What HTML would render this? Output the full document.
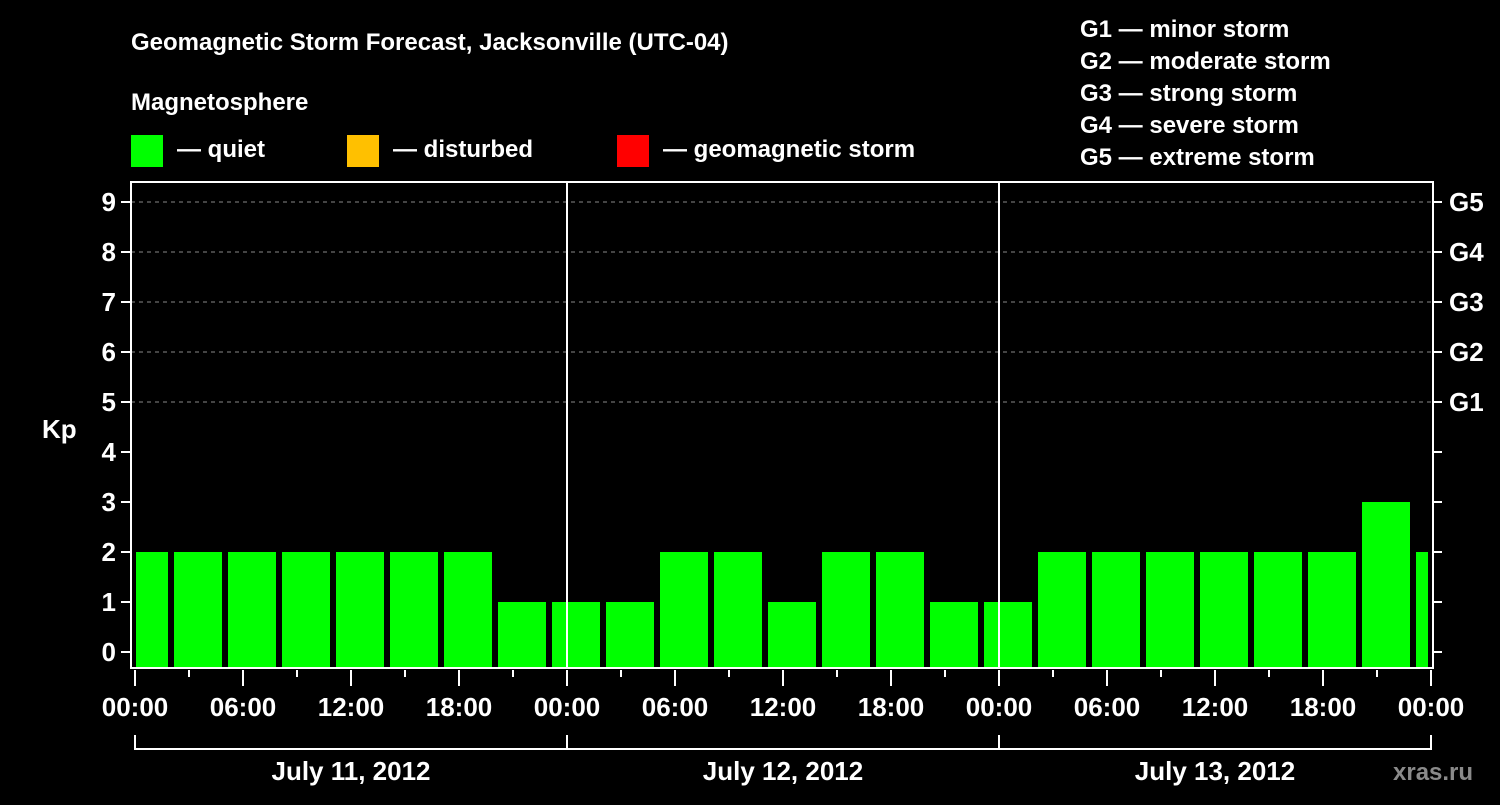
<!DOCTYPE html>
<html><head><meta charset="utf-8"><style>
body{margin:0;background:#000;width:1500px;height:800px;overflow:hidden}
svg text{font-family:"Liberation Sans",Arial,sans-serif;font-weight:bold;fill:#fff}
</style></head><body>
<svg id="c" width="1500" height="800">
<text x="131" y="50" font-size="24">Geomagnetic Storm Forecast, Jacksonville (UTC-04)</text>
<text x="131" y="110" font-size="24">Magnetosphere</text>
<rect x="131" y="135" width="32" height="32" fill="#00ff00"/>
<text x="177" y="157" font-size="24">— quiet</text>
<rect x="347" y="135" width="32" height="32" fill="#ffc000"/>
<text x="393" y="157" font-size="24">— disturbed</text>
<rect x="617" y="135" width="32" height="32" fill="#ff0000"/>
<text x="663" y="157" font-size="24">— geomagnetic storm</text>
<g font-size="24">
<text x="1080" y="37">G1 — minor storm</text>
<text x="1080" y="69">G2 — moderate storm</text>
<text x="1080" y="101">G3 — strong storm</text>
<text x="1080" y="133">G4 — severe storm</text>
<text x="1080" y="165">G5 — extreme storm</text>
</g>
<text x="42" y="438" font-size="26">Kp</text>
<text x="1393" y="780" font-size="24" fill="#888" style="fill:#8a8a8a">xras.ru</text>
<g id="grid"></g><g id="bars"></g><g id="axes"></g>
</svg>
<script>
const dayLabels=["July 11, 2012","July 12, 2012","July 13, 2012"];
const hourLabels=["00:00","06:00","12:00","18:00"];
const yTicks=[0,1,2,3,4,5,6,7,8,9];
const gLevels=["G1","G2","G3","G4","G5"];
const gKp=[5,6,7,8,9];
const barStartHours=[-1,2,5,8,11,14,17,20,23,26,29,32,35,38,41,44,47,50,53,56,59,62,65,68,71];
const kpValues=[2,2,2,2,2,2,2,1,1,1,2,2,1,2,2,1,1,2,2,2,2,2,2,3,2];
const NS="http://www.w3.org/2000/svg";
const L=131,R=1433,T=182,B=668,X0=135,PXH=18;
const x=h=>X0+h*PXH, y=v=>652-v*50;
function mk(p,tag,a){const e=document.createElementNS(NS,tag);for(const k in a)e.setAttribute(k,a[k]);document.getElementById(p).appendChild(e);return e;}
yTicks.forEach(v=>{
 if(v>=5){const g=mk('grid','line',{x1:L,x2:R,y1:y(v),y2:y(v),stroke:'#888','stroke-dasharray':'4,4'});
 
 }
 const t=mk('axes','line',{x1:121,x2:L,y1:y(v),y2:y(v),stroke:'#fff','stroke-width':2});
 
 
 const r=mk('axes','line',{x1:R,x2:1442,y1:y(v),y2:y(v),stroke:'#fff','stroke-width':2});
 
 
 const l=mk('axes','text',{x:116,y:y(v)+9,'text-anchor':'end','font-size':26});l.textContent=v;
 
 
});
gLevels.forEach((g,i)=>{const t=mk('axes','text',{x:1449,y:y(gKp[i])+9,'font-size':26});t.textContent=g;
 
 });
kpValues.forEach((v,i)=>{
 let a=x(barStartHours[i])+3,b=x(barStartHours[i]+3)-3;
 a=Math.max(a,x(0)+1);b=Math.min(b,x(72)-3);
 const r=mk('bars','rect',{x:a,y:y(v),width:b-a,height:B-y(v),fill:v>=5?'#ff0000':(v>=4?'#ffc000':'#00ff00')});
 
 
});
const fr=mk('axes','rect',{x:L,y:T,width:R-L,height:B-T,fill:'none',stroke:'#fff','stroke-width':2});


[1,2].forEach(d=>{const s=mk('axes','line',{x1:x(24*d),x2:x(24*d),y1:T,y2:B,stroke:'#fff','stroke-width':2});
 
 });
for(let h=0;h<=72;h+=3){
 const maj=h%6===0;
 const t=mk('axes','line',{x1:x(h),x2:x(h),y1:B+2,y2:maj?686:677,stroke:'#fff','stroke-width':2});
 
 
 if(maj){const l=mk('axes','text',{x:x(h),y:716,'text-anchor':'middle','font-size':26});l.textContent=hourLabels[(h%24)/6];
 
 }
}
const br=mk('axes','line',{x1:x(0),x2:x(72),y1:749,y2:749,stroke:'#fff','stroke-width':2});


for(let d=0;d<=3;d++){const t=mk('axes','line',{x1:x(24*d),x2:x(24*d),y1:735,y2:750,stroke:'#fff','stroke-width':2});
 
 }
dayLabels.forEach((s,d)=>{const l=mk('axes','text',{x:x(24*d+12),y:780,'text-anchor':'middle','font-size':26});l.textContent=s;
 
 });
</script>
</body></html>
